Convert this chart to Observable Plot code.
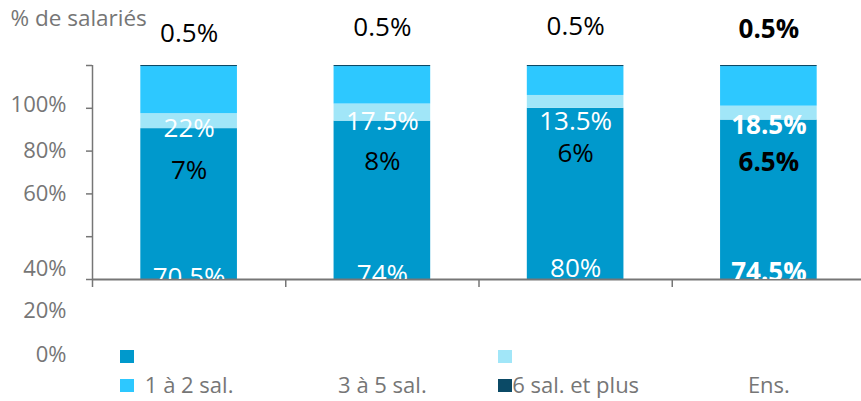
<!DOCTYPE html>
<html>
<head>
<meta charset="utf-8">
<script src="https://cdn.jsdelivr.net/npm/d3@7"></script>
<script src="https://cdn.jsdelivr.net/npm/@observablehq/plot@0.6"></script>
<style>
  body { margin: 0; background: #fff; font-family: "Open Sans", sans-serif; }
  #wrap { position: relative; width: 861px; height: 401px; }
  #legend { position: absolute; left: 120px; top: 350px; display: grid;
            grid-template-columns: 378px 14px; grid-auto-rows: 29px; }
  #legend span { display: block; width: 14px; height: 13px; }
</style>
</head>
<body>
<div id="wrap"></div>
<script>
// ---- data ----
const categories = ["1 à 2 sal.", "3 à 5 sal.", "6 sal. et plus", "Ens."];
const darkValues = [70.5, 74, 80, 74.5];
const paleValues = [7, 8, 6, 6.5];
const cyanValues = [22, 17.5, 13.5, 18.5];
const navyValues = [0.5, 0.5, 0.5, 0.5];
const seriesColors = ["#0099cc", "#a1e6f8", "#2dc8ff", "#0b4a66"];
const labelColors = ["#ffffff", "#000000", "#ffffff", "#000000"];
// label positions (in y units) as displayed in the reference
const darkLabelY = [0.9, 2.3, 5.1, 3.3];
const paleLabelY = [50.9, 55.1, 58.9, 54.7];
const cyanLabelY = [70.6, 73.8, 73.8, 72];
const navyLabelY = [114.7, 117.5, 118.2, 116.8];
const yTicks = [0, 20, 40, 60, 80, 100];
const yTickLabels = ["100%", "80%", "60%", "40%", "20%", "0%"];
const yTickLabelPos = [81.5, 60.3, 40.2, 4.7, -14.5, -35.3];
const title = "% de salariés";
const boldCategory = "Ens.";

// ---- build tables ----
const seriesValues = [darkValues, paleValues, cyanValues, navyValues];
const seriesLabelY = [darkLabelY, paleLabelY, cyanLabelY, navyLabelY];
const segs = [];
const labels = [];
categories.forEach((c, i) => {
  const cum = d3.cumsum(seriesValues.map(s => s[i]));
  seriesValues.forEach((s, k) => {
    segs.push({i, k, y1: cum[k] - s[i], y2: cum[k]});
    labels.push({i, k, cat: c, y: seriesLabelY[k][i], text: `${s[i]}%`});
  });
});
const tickRows = yTickLabels.map((t, j) => ({t, y: yTickLabelPos[j]}));
const gray = "#767676";

function labelMark(rows, bold, clip) {
  return Plot.text(rows, {x: d => d.i + 0.5, y: "y", text: "text",
    fill: d => labelColors[d.k], fontSize: 26, clip,
    fontWeight: bold ? "bold" : "normal"});
}
const inner = labels.filter(d => d.k < 3);
const outer = labels.filter(d => d.k === 3);

const chart = Plot.plot({
  width: 861,
  height: 401,
  marginTop: 65,
  marginBottom: 122,
  marginLeft: 92,
  marginRight: 0,
  style: {fontFamily: "Open Sans, sans-serif", background: "#fff"},
  x: {domain: [0, 4], range: [92, 865], axis: null},
  y: {domain: [0, 100], axis: null},
  marks: [
    Plot.rectY(segs, {x1: d => d.i + 0.25, x2: d => d.i + 0.75, y1: "y1", y2: "y2",
      fill: d => seriesColors[d.k]}),
    Plot.axisY({ticks: yTicks, tickSize: 6, tickFormat: () => "", stroke: gray, strokeWidth: 1.5, anchor: "left"}),
    Plot.axisX({ticks: [0, 1, 2, 3], tickSize: 8, tickFormat: () => "", stroke: gray, strokeWidth: 1.5, anchor: "bottom"}),
    Plot.ruleX([0], {stroke: gray, strokeWidth: 1.5}),
    Plot.ruleY([0], {stroke: gray, strokeWidth: 2}),
    labelMark(inner.filter(d => d.cat !== boldCategory), false, true),
    labelMark(inner.filter(d => d.cat === boldCategory), true, true),
    labelMark(outer.filter(d => d.cat !== boldCategory), false, false),
    labelMark(outer.filter(d => d.cat === boldCategory), true, false),
    Plot.text(tickRows, {x: 0, y: "y", text: "t", dx: -26, textAnchor: "end", fill: gray, fontSize: 22}),
    Plot.text(categories, {x: (d, i) => i + 0.5, text: d => d, frameAnchor: "bottom", lineAnchor: "middle",
      dy: 106, fill: gray, fontSize: 22}),
    Plot.text([title], {frameAnchor: "top-left", lineAnchor: "middle", textAnchor: "start",
      dx: -82, dy: -47, fill: gray, fontSize: 22.5})
  ]
});
const wrap = document.getElementById("wrap");
wrap.appendChild(chart);
const legend = document.createElement("div");
legend.id = "legend";
seriesColors.forEach(c => {
  const s = document.createElement("span");
  s.style.background = c;
  legend.appendChild(s);
});
wrap.appendChild(legend);
</script>
</body>
</html>
